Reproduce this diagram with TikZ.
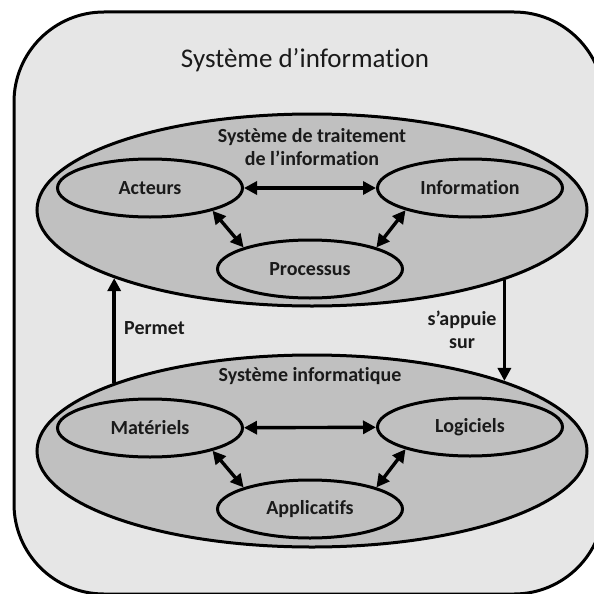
\documentclass[tikz,border=0pt]{standalone}
\usepackage{fontspec}
\setmainfont{Carlito}[Ligatures={NoCommon,NoRare}]
\usetikzlibrary{shapes.geometric,arrows.meta}
\definecolor{pagegray}{HTML}{E6E6E6}
\definecolor{blobgray}{HTML}{C0C0C0}
\definecolor{inkgray}{HTML}{1A1A1A}
\begin{document}
\begin{tikzpicture}[x=1pt,y=-1pt,
  frame/.style={draw=black,line width=3pt,fill=pagegray,rounded corners=90pt},
  blob/.style={ellipse,draw=black,line width=3pt,fill=blobgray,
    minimum width=550pt,minimum height=192pt,inner sep=0pt},
  item/.style={ellipse,draw=black,line width=3pt,fill=blobgray,
    minimum width=185pt,minimum height=58pt,inner sep=0pt,
    font=\bfseries\fontsize{20}{24}\selectfont,text=inkgray},
  lbl/.style={font=\bfseries\fontsize{20}{23.5}\selectfont,align=center,
    inner sep=0pt,text=inkgray},
  dbl/.style={{Triangle[length=13pt,width=13pt]}-{Triangle[length=13pt,width=13pt]},line width=3.4pt},
  one/.style={-{Triangle[length=13pt,width=13pt]},line width=3.4pt}]
\useasboundingbox (0,0) rectangle (594,594);

% outer frame, running past the right and bottom edges
\begin{scope}
  \clip (0,0) rectangle (594,594);
  \draw[frame] (14,12) rectangle (604,594);
\end{scope}
\node[font=\fontsize{27}{32}\selectfont,text=inkgray,inner sep=0pt] (title) at (305,60) {Système d’information};

% information processing system
\node[blob] (up) at (312,210) {};
\node[lbl] (uptitle) at (312,147) {Système de traitement\\de l’information};
\node[item] (act) at (150,188) {Acteurs};
\node[item] (inf) at (470,188) {Information};
\node[item] (proc) at (310,269) {Processus};
\draw[dbl] (act) -- (inf);
\draw[dbl] (act.340) -- (proc.162);
\draw[dbl] (inf.199) -- (proc.18);

% computer system
\node[blob] (lo) at (312,451) {};
\node[lbl] (lotitle) at (310,376) {Système informatique};
\node[item] (mat) at (150,428) {Matériels};
\node[item] (log) at (470,427) {Logiciels};
\node[item] (app) at (310,509) {Applicatifs};
\draw[dbl] (mat) -- (log);
\draw[dbl] (mat.340) -- (app.162);
\draw[dbl] (log.199) -- (app.18);

% links between the two systems
\draw[one] (lo.161) -- (up.199);
\draw[one] (up.340) -- (lo.20);
\node[lbl,anchor=west] (permet) at (124,328) {Permet};
\node[lbl] (appuie) at (462,330) {s’appuie\\sur};
\end{tikzpicture}
\end{document}
